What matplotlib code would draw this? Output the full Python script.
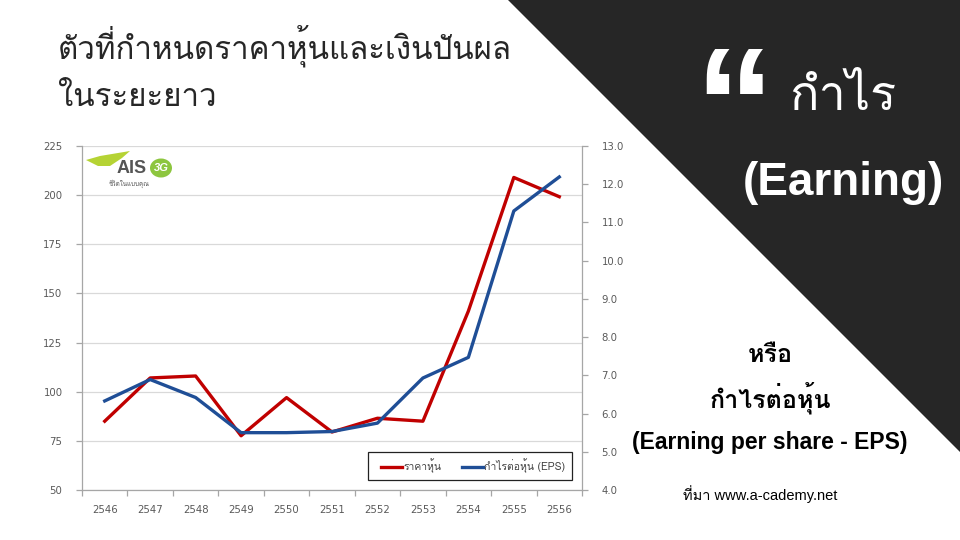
import matplotlib
matplotlib.use("Agg")
import matplotlib.pyplot as plt
from matplotlib import font_manager
from matplotlib.ft2font import FT2Font
from matplotlib.patches import Polygon, Ellipse, Rectangle

# ---------------- data ----------------
years = ["2546", "2547", "2548", "2549", "2550", "2551", "2552", "2553", "2554", "2555", "2556"]
price = [85.0, 107.0, 108.0, 77.6, 97.0, 79.5, 86.5, 85.0, 141.0, 209.0, 199.2]
eps = [6.33, 6.89, 6.42, 5.50, 5.50, 5.53, 5.75, 6.93, 7.47, 11.30, 12.19]
left_ticks = [50, 75, 100, 125, 150, 175, 200, 225]
right_ticks = [4.0, 5.0, 6.0, 7.0, 8.0, 9.0, 10.0, 11.0, 12.0, 13.0]
label_price = "ราคาหุ้น"
label_eps = "กำไรต่อหุ้น (EPS)"

# ---------------- find a font with Thai glyphs ----------------
thai_family = None
for f in font_manager.fontManager.ttflist:
    try:
        cm = FT2Font(f.fname).get_charmap()
        if 0x0E01 in cm and 0x0E33 in cm:
            thai_family = f.name
            break
    except Exception:
        continue
fams = ([thai_family] if thai_family else []) + ["DejaVu Sans"]
bold_fams = ["Liberation Sans"] + fams
plt.rcParams["font.family"] = fams

fig = plt.figure(figsize=(9.6, 5.4), dpi=100)
fig.patch.set_facecolor("white")

# dark triangle in the upper right
tri = Polygon([(508 / 960, 1), (1, 1), (1, 1 - 452 / 540)], closed=True,
              transform=fig.transFigure, facecolor="#262626", edgecolor="none", zorder=0)
fig.patches.append(tri)

# ---------------- chart ----------------
ax = fig.add_axes([82 / 960, 1 - 490 / 540, 500 / 960, 344 / 540])
ax2 = ax.twinx()
x = list(range(len(years)))

ax.set_xlim(-0.5, len(years) - 0.5)
ax.set_ylim(50, 225)
ax2.set_ylim(4.0, 13.0)
ax.set_yticks(left_ticks)
ax.set_yticklabels([str(v) for v in left_ticks])
ax2.set_yticks(right_ticks)
ax2.set_yticklabels([f"{v:.1f}" for v in right_ticks])
ax.set_xticks(x)
ax.set_xticklabels(years)
ax.set_xticks([i - 0.5 for i in range(len(years) + 1)], minor=True)

ax.grid(axis="y", color="#d9d9d9", linewidth=0.9)
ax.set_axisbelow(True)

for a in (ax, ax2):
    for s in a.spines.values():
        s.set_visible(False)
ax.spines["left"].set_visible(True)
ax.spines["bottom"].set_visible(True)
ax2.spines["right"].set_visible(True)
for s in (ax.spines["left"], ax.spines["bottom"], ax2.spines["right"]):
    s.set_color("#a6a6a6")
    s.set_linewidth(0.9)

ax.tick_params(axis="x", which="major", length=0, pad=11, labelsize=7.3, labelcolor="#595959")
ax.tick_params(axis="x", which="minor", length=4, color="#a6a6a6", width=0.9)
ax.tick_params(axis="y", length=4, color="#a6a6a6", width=0.9, pad=10, labelsize=7.3, labelcolor="#595959")
ax2.tick_params(axis="y", length=4, color="#a6a6a6", width=0.9, pad=10, labelsize=7.3, labelcolor="#595959")
for lab in ax.get_xticklabels() + ax.get_yticklabels() + ax2.get_yticklabels():
    lab.set_fontfamily("DejaVu Sans")

l1, = ax.plot(x, price, color="#c00000", linewidth=2.4, label=label_price, zorder=3)
l2, = ax2.plot(x, eps, color="#1f4e96", linewidth=2.4, label=label_eps, zorder=3)

# legend box (frame drawn separately so its size matches the reference)
box = Rectangle((368 / 960, 1 - 480 / 540), 204 / 960, 28 / 540, transform=fig.transFigure,
                facecolor="white", edgecolor="#222222", linewidth=0.9, zorder=4)
ax2.add_artist(box)
box.set_clip_on(False)
leg = ax2.legend([l1, l2], [label_price, label_eps], loc="center",
                 bbox_to_anchor=(473 / 960, 1 - 466 / 540),
                 bbox_transform=fig.transFigure, ncol=2, frameon=False,
                 prop={"size": 7.5}, handlelength=2.0, handletextpad=0.1,
                 columnspacing=2.0, borderaxespad=0, borderpad=0)
leg.set_zorder(5)
for t in leg.get_texts():
    t.set_color("#404040")

# AIS logo approximation
sw = Polygon([(86 / 960, 1 - 160 / 540), (100 / 960, 1 - 156 / 540), (130 / 960, 1 - 151 / 540),
              (122 / 960, 1 - 158 / 540), (110 / 960, 1 - 166 / 540), (98 / 960, 1 - 166 / 540)],
             closed=True, transform=fig.transFigure, facecolor="#b5d334", edgecolor="none")
fig.patches.append(sw)
fig.text(117 / 960, 1 - 169 / 540, "AIS", fontsize=13, fontweight="bold",
         color="#555555", family=bold_fams, ha="left", va="center")
logo_c = Ellipse((161 / 960, 1 - 168 / 540), 22 / 960, 19 / 540, transform=fig.transFigure,
                 facecolor="#8dc63f", edgecolor="none")
fig.patches.append(logo_c)
fig.text(161 / 960, 1 - 168 / 540, "3G", fontsize=8, fontweight="bold", style="italic",
         color="white", family=bold_fams, ha="center", va="center")
fig.text(109 / 960, 1 - 184 / 540, "ชีวิตในแบบคุณ", fontsize=4.5, color="#555555",
         ha="left", va="center")

# ---------------- slide texts ----------------
fig.text(58 / 960, 1 - 46 / 540, "ตัวที่กำหนดราคาหุ้นและเงินปันผล", fontsize=22.5,
         color="#262626", ha="left", va="center")
fig.text(58 / 960, 1 - 98 / 540, "ในระยะยาว", fontsize=22.5,
         color="#262626", ha="left", va="center")

fig.text(734 / 960, 1 - 118 / 540, "\u201c", fontsize=115, fontweight="bold",
         color="white", family=bold_fams, ha="center", va="center")
fig.text(843 / 960, 1 - 97 / 540, "กำไร", fontsize=35, color="white",
         ha="center", va="center")
fig.text(843 / 960, 1 - 183 / 540, "(Earning)", fontsize=33, fontweight="bold",
         color="white", family=bold_fams, ha="center", va="center")

fig.text(770 / 960, 1 - 355 / 540, "หรือ", fontsize=18, fontweight="bold",
         color="black", ha="center", va="center")
fig.text(770 / 960, 1 - 398 / 540, "กำไรต่อหุ้น", fontsize=18, fontweight="bold",
         color="black", ha="center", va="center")
fig.text(770 / 960, 1 - 443 / 540, "(Earning per share - EPS)", fontsize=16.5,
         fontweight="bold", color="black", family=bold_fams, ha="center", va="center")
fig.text(760 / 960, 1 - 494 / 540, "ที่มา www.a-cademy.net", fontsize=10.5,
         color="black", family=["Liberation Sans"] + fams, ha="center", va="center")

fig.savefig("out.png", dpi=100, facecolor="white")
